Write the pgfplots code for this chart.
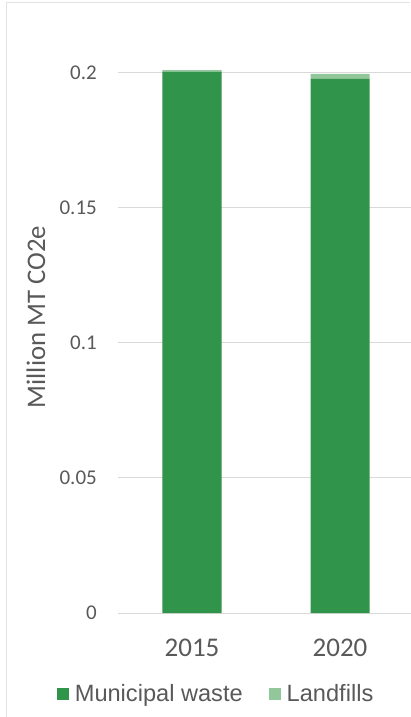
\documentclass[border=0pt]{standalone}
\usepackage{fontspec}
\setmainfont{Liberation Sans}
\newfontfamily\calib{Carlito}
\usepackage{pgfplots}
\pgfplotsset{compat=1.18}
\definecolor{dkgreen}{HTML}{31944B}
\definecolor{ltgreen}{HTML}{92C69B}
\definecolor{txtgray}{HTML}{595959}
\definecolor{gridgray}{HTML}{D9D9D9}
\definecolor{framegray}{HTML}{E3E3E3}
\begin{document}
\begin{tikzpicture}
\begin{axis}[
  at={(0pt,0pt)}, anchor=south west,
  scale only axis,
  width=296pt, height=567pt,
  xmin=-0.5, xmax=1.5,
  ymin=0, ymax=0.21,
  ybar stacked,
  bar width=59pt,
  xtick={0,1}, xticklabels={2015,2020},
  ytick={0,0.05,0.1,0.15,0.2},
  yticklabels={0,0.05,0.1,0.15,0.2},
  major tick length=0pt,
  axis line style={draw=none},
  ymajorgrids, grid style={gridgray, line width=1pt},
  yticklabel style={anchor=east, inner sep=0pt, xshift=-21pt, font=\calib\fontsize{21}{24}\selectfont, text=txtgray},
  xticklabel style={anchor=north, inner sep=0pt, yshift=-26pt, font=\calib\fontsize{27}{30}\selectfont, text=txtgray},
  ylabel={Million MT CO2e},
  ylabel style={at={(rel axis cs:-0.277,0.522)}, anchor=center, font=\calib\fontsize{26.8}{30}\selectfont, text=txtgray, inner sep=0pt},
  legend style={at={(rel axis cs:0.328,-0.143)}, anchor=center, draw=none, fill=none,
    font=\fontsize{23.6}{28}\selectfont, text=txtgray, inner sep=0pt,
    nodes={inner sep=0pt},
    /tikz/every odd column/.append style={column sep=6pt},
    /tikz/every even column/.append style={column sep=26pt}},
  legend columns=2,
  legend image code/.code={\fill[#1] (0pt,-6pt) rectangle (12pt,6pt);},
  clip=false,
]
\addplot[fill=dkgreen, draw=none] coordinates {(0,0.2005) (1,0.1978)};
\addplot[fill=ltgreen, draw=none] coordinates {(0,0.0006) (1,0.0019)};
\legend{Municipal waste, Landfills}
\end{axis}
\draw[framegray, line width=1pt] (-111pt,-104pt) -- (-111pt,610pt) -- (292pt,610pt);
\pgfresetboundingbox
\useasboundingbox (-118pt,-104pt) rectangle (292pt,613pt);
\end{tikzpicture}
\end{document}
